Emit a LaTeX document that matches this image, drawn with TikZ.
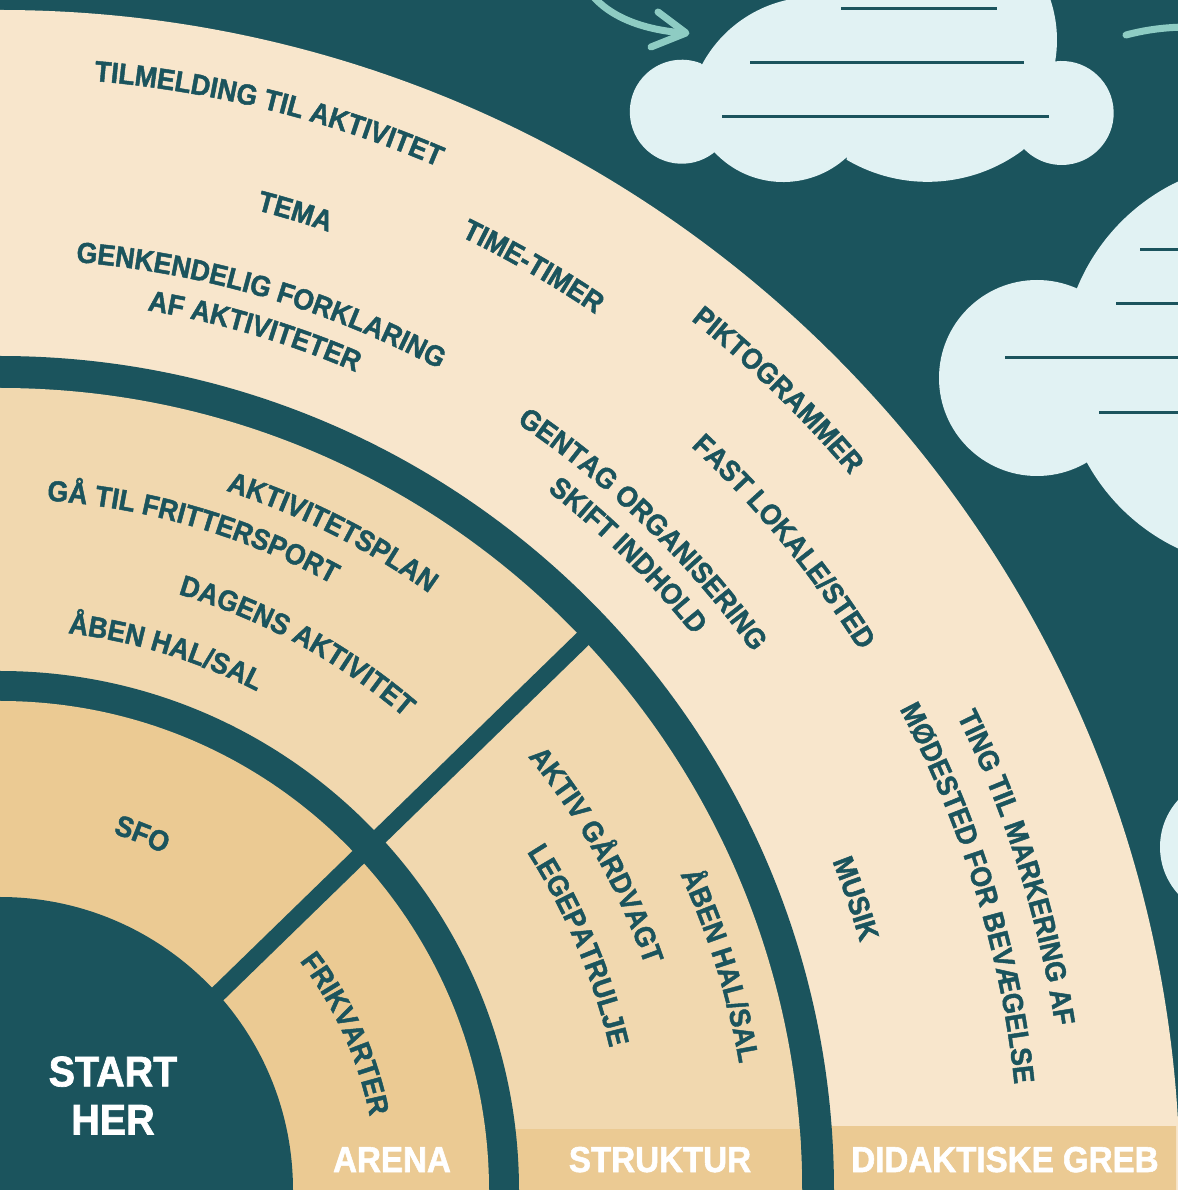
\documentclass[tikz,border=0pt]{standalone}
\usepackage{fontspec}
\usepackage{tikz}
\usetikzlibrary{ decorations.text, % For text set along the rings
               }
\newfontfamily\diagfont[FakeStretch=0.92, FakeBold=1.6]{Liberation Sans}
\definecolor{tealdark}{HTML}{1B545D}
\definecolor{ringouter}{HTML}{F8E6CC}
\definecolor{ringmid}{HTML}{F1D8AF}
\definecolor{ringinner}{HTML}{EBCA93}
\definecolor{cloudblue}{HTML}{E1F2F3}
\definecolor{mint}{HTML}{8ECCC3}
\newcommand{\ringfont}{\diagfont\bfseries\fontsize{8.25}{9}\selectfont\color{tealdark}}

\begin{document}
\begin{tikzpicture}[x=0.01cm, y=0.01cm, % one unit is one pixel of the poster
  ringtext/.style={decorate, decoration={text along path, text align=center, text={|\ringfont|#1}}},
  tab label/.style={text=white, anchor=base, font=\diagfont\bfseries\fontsize{10.24}{12}\selectfont},
  start label/.style={text=white, align=center, inner sep=0pt, font=\diagfont\bfseries\fontsize{12.2}{13.7}\selectfont},
  cloud/.style={fill=cloudblue},
  cloud line/.style={draw=tealdark, line width=0.03cm},
  swoosh/.style={draw=mint, line width=0.07cm, line cap=round, line join=round}]
  \clip (0,0) rectangle (1178,1190);
  \fill[tealdark] (0,0) rectangle (1178,1190);

  % rings, from the outside in
  \fill[ringouter] (0,0) -- (0:1180) arc[start angle=0, end angle=90, radius=1180] -- cycle;
  \begin{scope}
    \clip (0,0) rectangle (1176,63);
    \fill[ringinner] (0,0) -- (0:1180) arc[start angle=0, end angle=90, radius=1180] -- cycle;
  \end{scope}
  \fill[tealdark] (0,0) -- (0:834) arc[start angle=0, end angle=90, radius=834] -- cycle;
  \fill[ringmid] (0,0) -- (0:802) arc[start angle=0, end angle=90, radius=802] -- cycle;
  \begin{scope}
    \clip (0,0) rectangle (1178,60);
    \fill[ringinner] (0,0) -- (0:802) arc[start angle=0, end angle=90, radius=802] -- cycle;
  \end{scope}
  \fill[tealdark] (0,0) -- (0:519) arc[start angle=0, end angle=90, radius=519] -- cycle;
  \fill[ringinner] (0,0) -- (0:489) arc[start angle=0, end angle=90, radius=489] -- cycle;
  \fill[tealdark] (0,0) -- (0:293) arc[start angle=0, end angle=90, radius=293] -- cycle;
  \draw[tealdark, line width=0.17cm] (193,172) -- (594,562);

  % clouds
  \fill[cloud] (702,1125.4) arc[start angle=151.9, end angle=90, radius=128] -- (930,1277)
    arc[start angle=90, end angle=-9.7, radius=127] arc[start angle=97.2, end angle=-136.5, radius=52]
    -- (1023,1040) arc[start angle=-53.1, end angle=-120.6, radius=159]
    -- (847,1033) arc[start angle=-47.2, end angle=-136.8, radius=94]
    -- (717,1040) arc[start angle=-47.4, end angle=-291.5, radius=52] -- cycle;
  \draw[cloud line] (841,1181) -- (997,1181);
  \draw[cloud line] (750,1127) -- (1024,1127);
  \draw[cloud line] (722,1073) -- (1049,1073);

  \fill[cloud] (1037,812) circle[radius=98];
  \fill[cloud] (1265,825) circle[radius=203];
  \fill[cloud] (1235,842) circle[radius=164];
  \draw[cloud line] (1140,940) -- (1190,940);
  \draw[cloud line] (1116,886) -- (1190,886);
  \draw[cloud line] (1005,832) -- (1190,832);
  \draw[cloud line] (1099,777) -- (1190,777);

  \fill[cloud] (1230,343) circle[radius=70];

  % arrows between the clouds
  \draw[swoosh] (588,1200) .. controls (608,1172) and (645,1160) .. (684,1157);
  \draw[swoosh] (658,1178) -- (686,1157) -- (651,1143);
  \draw[swoosh] (1126,1155) .. controls (1145,1160) and (1165,1163) .. (1190,1163);

  % didaktiske greb
  \path[ringtext={TILMELDING TIL AKTIVITET}] (76+40:1113) arc[start angle=76+40, end angle=76-40, radius=1113];
  \path[ringtext={TEMA}] (73.2+40:1013) arc[start angle=73.2+40, end angle=73.2-40, radius=1013];
  \path[ringtext={GENKENDELIG FORKLARING}] (73.6+40:931) arc[start angle=73.6+40, end angle=73.6-40, radius=931];
  \path[ringtext={AF AKTIVITETER}] (73.5+40:892) arc[start angle=73.5+40, end angle=73.5-40, radius=892];
  \path[ringtext={TIME-TIMER}] (60+40:1059) arc[start angle=60+40, end angle=60-40, radius=1059];
  \path[ringtext={PIKTOGRAMMER}] (45.8+40:1111) arc[start angle=45.8+40, end angle=45.8-40, radius=1111];
  \path[ringtext={FAST LOKALE/STED}] (39.6+40:1015) arc[start angle=39.6+40, end angle=39.6-40, radius=1015];
  \path[ringtext={GENTAG ORGANISERING}] (45.8+40:925) arc[start angle=45.8+40, end angle=45.8-40, radius=925];
  \path[ringtext={SKIFT INDHOLD}] (45.3+40:888) arc[start angle=45.3+40, end angle=45.3-40, radius=888];
  \path[ringtext={TING TIL MARKERING AF}] (17.6+40:1068) arc[start angle=17.6+40, end angle=17.6-40, radius=1068];
  \path[ringtext={MØDESTED FOR BEVÆGELSE}] (17.05+40:1020) arc[start angle=17.05+40, end angle=17.05-40, radius=1020];
  \path[ringtext={MUSIK}] (18.8+40:895) arc[start angle=18.8+40, end angle=18.8-40, radius=895];

  % struktur
  \path[ringtext={AKTIVITETSPLAN}] (63.2+40:735) arc[start angle=63.2+40, end angle=63.2-40, radius=735];
  \path[ringtext={GÅ TIL FRITTERSPORT}] (73.7+40:691) arc[start angle=73.7+40, end angle=73.7-40, radius=691];
  \path[ringtext={DAGENS AKTIVITET}] (61.4+40:622) arc[start angle=61.4+40, end angle=61.4-40, radius=622];
  \path[ringtext={ÅBEN HAL/SAL}] (72.9+40:561) arc[start angle=72.9+40, end angle=72.9-40, radius=561];
  \path[ringtext={AKTIV GÅRDVAGT}] (29.3+40:683) arc[start angle=29.3+40, end angle=29.3-40, radius=683];
  \path[ringtext={LEGEPATRULJE}] (22.9+40:626) arc[start angle=22.9+40, end angle=22.9-40, radius=626];
  \path[ringtext={ÅBEN HAL/SAL}] (17.3+40:750) arc[start angle=17.3+40, end angle=17.3-40, radius=750];

  % arena
  \path[ringtext={SFO}] (68.2+40:374) arc[start angle=68.2+40, end angle=68.2-40, radius=374];
  \path[ringtext={FRIKVARTER}] (24.3+40:377) arc[start angle=24.3+40, end angle=24.3-40, radius=377];

  \node[start label] (start) at (113,94.5) {START\\HER};
  \node[tab label] (arena) at (392,18) {ARENA};
  \node[tab label] (struktur) at (660,18) {STRUKTUR};
  \node[tab label] (didaktik) at (1005,18) {DIDAKTISKE GREB};
\end{tikzpicture}
\end{document}
